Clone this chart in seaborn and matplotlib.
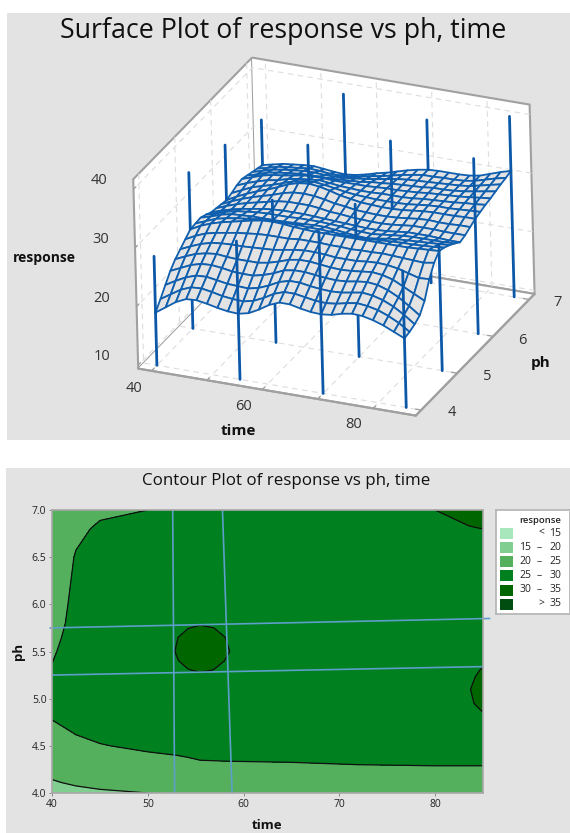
import numpy as np
import matplotlib
matplotlib.use('Agg')
import matplotlib.pyplot as plt
from matplotlib.patches import Rectangle
import seaborn as sns

W, H = 570, 833

# design points, drawn as drop lines in the surface plot
SPIKE_TIME = [40, 55, 70, 85, 40, 55, 70, 85, 40, 55, 70, 85, 40, 55, 70, 85]
SPIKE_PH = [4, 4, 4, 4, 5, 5, 5, 5, 6, 6, 6, 6, 7, 7, 7, 7]
SPIKE_RESPONSE = [28.0, 33.0, 37.0, 32.7, 36.0, 33.7, 35.4, 31.0, 34.4, 36.8, 39.9, 39.3, 32.4, 39.2, 37.2, 40.2]

SURF_TIME = [40, 41.875, 43.75, 45.625, 47.5, 49.375, 51.25, 53.125, 55, 56.875, 58.75, 60.625, 62.5,
             64.375, 66.25, 68.125, 70, 71.875, 73.75, 75.625, 77.5, 79.375, 81.25, 83.125, 85]
SURF_PH = [4, 4.143, 4.286, 4.429, 4.571, 4.714, 4.857, 5, 5.143, 5.286, 5.429,
           5.571, 5.714, 5.857, 6, 6.143, 6.286, 6.429, 6.571, 6.714, 6.857, 7]
SURF_RESPONSE = [
    [18.4, 19.6, 20.8, 21.6, 21.7, 21.4, 21.0, 20.7, 20.6, 21.0, 21.9, 23.0, 23.7, 23.7, 23.3, 23.0, 22.9, 23.1, 23.6, 23.9, 23.8, 23.4, 22.8, 22.0, 21.2],
    [19.8, 20.9, 22.0, 22.7, 22.8, 22.5, 22.1, 21.9, 21.8, 22.2, 23.0, 24.0, 24.6, 24.6, 24.3, 24.0, 23.9, 24.1, 24.5, 24.8, 24.6, 24.2, 23.5, 22.6, 21.4],
    [21.3, 22.3, 23.2, 23.8, 23.9, 23.6, 23.3, 23.2, 23.1, 23.5, 24.2, 25.1, 25.6, 25.6, 25.3, 25.1, 25.0, 25.1, 25.4, 25.7, 25.5, 25.0, 24.2, 23.1, 21.8],
    [22.8, 23.6, 24.4, 24.9, 25.0, 24.8, 24.5, 24.4, 24.4, 24.8, 25.4, 26.2, 26.5, 26.5, 26.3, 26.1, 26.0, 26.1, 26.4, 26.6, 26.4, 25.8, 24.9, 23.7, 22.4],
    [23.9, 24.7, 25.4, 25.8, 26.0, 25.8, 25.7, 25.7, 25.7, 26.0, 26.5, 27.1, 27.4, 27.4, 27.2, 27.0, 26.9, 27.0, 27.2, 27.4, 27.2, 26.7, 25.8, 24.9, 24.0],
    [24.7, 25.5, 26.2, 26.7, 26.9, 27.0, 27.0, 27.1, 27.2, 27.3, 27.6, 27.9, 28.1, 28.1, 28.0, 27.8, 27.8, 27.8, 28.0, 28.1, 28.0, 27.7, 27.2, 26.7, 26.8],
    [25.5, 26.4, 27.1, 27.5, 27.8, 28.1, 28.3, 28.5, 28.6, 28.6, 28.6, 28.8, 28.8, 28.8, 28.7, 28.7, 28.6, 28.7, 28.7, 28.8, 28.7, 28.6, 28.5, 28.4, 28.7],
    [26.3, 27.2, 27.9, 28.4, 28.8, 29.2, 29.6, 29.9, 30.0, 29.9, 29.7, 29.6, 29.5, 29.5, 29.5, 29.5, 29.5, 29.5, 29.5, 29.5, 29.5, 29.5, 29.6, 29.7, 29.8],
    [26.4, 27.1, 27.8, 28.2, 28.5, 28.7, 28.9, 29.1, 29.1, 29.1, 29.1, 29.0, 29.0, 28.9, 28.8, 28.7, 28.7, 28.8, 28.9, 29.0, 29.1, 29.1, 29.2, 29.3, 29.5],
    [26.5, 27.0, 27.6, 28.0, 28.1, 28.2, 28.2, 28.2, 28.2, 28.3, 28.4, 28.5, 28.5, 28.3, 28.1, 27.9, 27.8, 28.0, 28.3, 28.5, 28.6, 28.7, 28.8, 28.9, 29.0],
    [26.1, 26.6, 27.2, 27.6, 27.8, 28.0, 28.1, 28.1, 28.1, 28.2, 28.2, 28.2, 28.1, 28.0, 27.8, 27.7, 27.6, 27.8, 28.0, 28.2, 28.3, 28.3, 28.3, 28.3, 28.4],
    [25.6, 26.2, 26.7, 27.1, 27.4, 27.7, 27.9, 28.0, 28.0, 28.0, 27.9, 27.8, 27.7, 27.6, 27.5, 27.4, 27.4, 27.5, 27.7, 27.9, 27.9, 27.9, 27.8, 27.7, 27.7],
    [25.4, 26.1, 26.7, 27.2, 27.6, 28.0, 28.4, 28.6, 28.6, 28.6, 28.4, 28.1, 28.0, 27.8, 27.7, 27.6, 27.6, 27.7, 27.9, 28.1, 28.1, 28.1, 28.0, 28.0, 28.0],
    [25.2, 26.0, 26.7, 27.3, 27.8, 28.3, 28.9, 29.3, 29.4, 29.3, 29.0, 28.6, 28.4, 28.1, 28.0, 27.9, 27.9, 28.0, 28.2, 28.4, 28.5, 28.4, 28.4, 28.5, 28.5],
    [25.0, 25.9, 26.7, 27.4, 28.0, 28.7, 29.5, 30.0, 30.2, 30.0, 29.6, 29.1, 28.8, 28.5, 28.4, 28.3, 28.3, 28.4, 28.6, 28.8, 28.9, 28.9, 28.9, 29.0, 29.0],
    [25.3, 26.1, 26.9, 27.4, 27.9, 28.5, 29.1, 29.4, 29.6, 29.4, 29.1, 28.8, 28.6, 28.5, 28.4, 28.4, 28.4, 28.5, 28.7, 28.9, 29.0, 29.0, 29.1, 29.2, 29.3],
    [25.7, 26.4, 27.0, 27.5, 27.8, 28.3, 28.6, 28.8, 29.0, 28.8, 28.6, 28.5, 28.4, 28.4, 28.5, 28.5, 28.5, 28.6, 28.8, 28.9, 29.0, 29.1, 29.3, 29.4, 29.6],
    [25.9, 26.5, 27.1, 27.5, 27.7, 28.0, 28.3, 28.4, 28.4, 28.3, 28.3, 28.3, 28.3, 28.4, 28.5, 28.5, 28.6, 28.7, 28.9, 29.0, 29.1, 29.2, 29.4, 29.6, 29.8],
    [25.6, 26.1, 26.7, 27.0, 27.2, 27.4, 27.5, 27.5, 27.5, 27.6, 27.7, 27.8, 28.1, 28.2, 28.4, 28.5, 28.6, 28.7, 28.9, 28.9, 29.0, 29.2, 29.5, 29.8, 30.1],
    [25.3, 25.8, 26.3, 26.6, 26.8, 27.0, 27.0, 26.9, 26.9, 27.0, 27.2, 27.4, 27.7, 28.0, 28.3, 28.5, 28.6, 28.7, 28.8, 28.9, 29.0, 29.2, 29.6, 30.0, 30.4],
    [25.0, 25.4, 25.9, 26.1, 26.3, 26.5, 26.4, 26.2, 26.2, 26.3, 26.6, 27.0, 27.3, 27.7, 28.1, 28.4, 28.7, 28.7, 28.8, 28.8, 28.9, 29.2, 29.7, 30.2, 30.6],
    [24.7, 25.1, 25.5, 25.7, 25.9, 26.0, 25.8, 25.6, 25.5, 25.7, 26.1, 26.6, 27.0, 27.5, 28.0, 28.4, 28.7, 28.8, 28.8, 28.8, 28.9, 29.2, 29.8, 30.4, 30.9],
]

CONT_TIME = [40, 41, 42.5, 45, 50, 53, 54.2, 55.5, 56.9, 58, 65, 72, 80, 83.5, 84.2, 85]
CONT_PH = [4, 4.3, 4.5, 4.8, 4.95, 5.1, 5.3, 5.4, 5.5, 5.65, 5.8, 6, 6.5, 6.8, 7]
CONT_RESPONSE = [
    [19, 19.3, 19.5, 19.7, 20, 20.5, 20.6, 20.8, 21.2, 21.5, 22.5, 22.5, 22.5, 22.5, 22.5, 22.5],
    [21.1, 21.2, 21.5, 22, 23.5, 24, 24.3, 24.6, 24.65, 24.7, 24.8, 25, 25.1, 25.1, 25.1, 25.1],
    [22.8, 23.3, 23.9, 24.8, 25.7, 26, 26.1, 26.3, 26.3, 26.3, 26.4, 26.5, 26.5, 26.5, 26.5, 26.6],
    [25.2, 25.7, 26.7, 27.2, 27.5, 27.8, 27.9, 28, 27.9, 27.8, 27.8, 28, 28.2, 28.7, 29.2, 29.7],
    [25.5, 26, 27, 27.6, 28.05, 28.4, 28.45, 28.55, 28.45, 28.3, 28.05, 28.25, 28.5, 29.6, 30.1, 30.5],
    [25.8, 26.3, 27.3, 28, 28.6, 29, 29, 29.1, 29, 28.8, 28.3, 28.5, 28.8, 29.8, 30.5, 31],
    [25.3, 26.1, 27.2, 28, 29, 29.7, 29.95, 30.1, 29.97, 29.75, 28.4, 28.5, 28.6, 29.3, 29.75, 30.2],
    [24.9, 25.8, 27.05, 27.9, 29, 29.93, 30.28, 30.48, 30.31, 30, 28.45, 28.45, 28.45, 28.95, 29.2, 29.6],
    [24.5, 25.5, 26.9, 27.8, 29, 30.06, 30.49, 30.87, 30.52, 30.13, 28.5, 28.4, 28.3, 28.6, 28.8, 29],
    [24.25, 25, 26.65, 27.65, 28.8, 29.95, 30.31, 30.52, 30.34, 30.02, 28.5, 28.35, 28.25, 28.45, 28.6, 28.75],
    [24, 24.5, 26.4, 27.5, 28.6, 29.58, 29.81, 29.92, 29.83, 29.62, 28.5, 28.3, 28.2, 28.3, 28.4, 28.5],
    [23.8, 24.2, 26, 27.3, 28.2, 29, 29.1, 29.2, 29.2, 29.2, 28.5, 28.3, 28.2, 28.3, 28.35, 28.4],
    [23.5, 23.8, 25.2, 26.5, 27.2, 28, 28.1, 28.2, 28.3, 28.4, 28.5, 28.4, 28.6, 28.7, 28.8, 28.9],
    [23.5, 23.6, 24.4, 25.4, 26, 27, 27.2, 27.4, 27.6, 27.8, 28.3, 28.8, 29.4, 29.8, 29.9, 30],
    [23.5, 23.6, 24, 24.5, 25, 26.2, 26.5, 26.8, 27.2, 27.4, 28, 29, 30, 31, 31.2, 31.5],
]
CONT_LEVELS = [0, 15, 20, 25, 30, 35, 100]
CONT_COLORS = ['#a8e6bb', '#80cf90', '#55b05e', '#00801f', '#006600', '#004d12']
LEGEND_LOW = ['<', '15', '20', '25', '30', '>']
LEGEND_HIGH = ['15', '20', '25', '30', '35', '35']

# the four guide lines across the contour plot
GUIDE_TIME = [[52.6, 52.8], [57.8, 58.8], [39.8, 85.7], [40, 85]]
GUIDE_PH = [[7.0, 4.0], [7.0, 4.0], [5.75, 5.85], [5.25, 5.34]]

# surface plot tick labels, the 3d axis can't offset them the way the picture does
SURF_TICK_LABELS = ['40', '30', '20', '10', '40', '60', '80', '4', '5', '6', '7']
SURF_TICK_X = [99, 101, 102, 102.5, 133.5, 244, 353.5, 452, 487, 522.5, 558]
SURF_TICK_Y = [180, 240, 299, 357, 388, 406, 424, 412, 376, 340, 302]

BLUE = '#0b57a8'
PANEL = '#e3e3e3'
BOX_GREY = '#a0a0a0'

sns.set_theme(style='white')
plt.rcParams['font.family'] = ['Open Sans', 'DejaVu Sans']
plt.rcParams['grid.color'] = '#dddddd'
plt.rcParams['grid.linestyle'] = (0, (5, 4))
plt.rcParams['grid.linewidth'] = 0.8
plt.rcParams['xtick.color'] = BOX_GREY
plt.rcParams['ytick.color'] = BOX_GREY
palette = sns.color_palette(CONT_COLORS)


def px_rect(x0, y0, x1, y1):
    # left, bottom, width, height in figure fractions, from picture pixels
    return [x0 / W, 1 - y1 / H, (x1 - x0) / W, (y1 - y0) / H]


def px_text(x, y, s, **kw):
    fig.text(x / W, 1 - y / H, s, **kw)


fig = plt.figure(figsize=(W / 100, H / 100), dpi=100, facecolor='white')
for x0, y0, x1, y1 in [(7, 13, 570, 440), (6, 468, 570, 833)]:
    l, b, w, h = px_rect(x0, y0, x1, y1)
    fig.add_artist(Rectangle((l, b), w, h, transform=fig.transFigure, color=PANEL, lw=0, zorder=-1))

# surface plot
px_text(283, 31, 'Surface Plot of response vs ph, time', ha='center', va='center', fontsize=19.3, color='#111111')
ax3 = fig.add_axes(px_rect(128.5, 42, 528.5, 442), projection='3d', computed_zorder=False, proj_type='ortho')
ax3.set_facecolor('none')
ax3.view_init(elev=25.9, azim=-65.8, roll=1.5)
ax3.set_box_aspect((303.5, 298, 211), zoom=1.15)
z_floor = 9.4
ax3.set_xlim(37.6, 87.7)
ax3.set_ylim(3.85, 7.15)
ax3.set_zlim(z_floor, 41.7)
ax3.set_xticks([40, 50, 60, 70, 80], [''] * 5)
ax3.set_yticks([4, 5, 6, 7], [''] * 4)
ax3.set_zticks([10, 20, 30, 40], [''] * 4)
ax3.zaxis.set_ticks_position('lower')
for axis in (ax3.xaxis, ax3.yaxis, ax3.zaxis):
    axis.set_pane_color('white')
    axis.pane.set_edgecolor(BOX_GREY)
    axis.pane.set_linewidth(1.5)
    axis.line.set_color(BOX_GREY)
    axis.line.set_linewidth(1.5)
    axis._axinfo['tick']['inward_factor'] = 0
    axis._axinfo['tick']['outward_factor'] = 0.25
    axis._axinfo['tick']['color'] = BOX_GREY
    axis._axinfo['tick']['linewidth'] = {True: 1.0, False: 0.8}

surf = np.array(SURF_RESPONSE)
tt, pp = np.meshgrid(SURF_TIME, SURF_PH)
for t, p, r in zip(SPIKE_TIME, SPIKE_PH, SPIKE_RESPONSE):
    at_surface = surf[SURF_PH.index(p), SURF_TIME.index(t)]
    ax3.plot([t, t], [p, p], [z_floor, at_surface], color=BLUE, lw=2.0, zorder=1)
    ax3.plot([t, t], [p, p], [at_surface, r], color=BLUE, lw=2.0, zorder=3)
ax3.plot_surface(tt, pp, surf, rstride=1, cstride=1, color=PANEL, edgecolor='#0f5fae', linewidth=1.3,
                 shade=False, antialiased=True, zorder=2)

for s, x, y in zip(SURF_TICK_LABELS, SURF_TICK_X, SURF_TICK_Y):
    px_text(x, y, s, ha='center', va='center', fontsize=10.5, color='#333333')
px_text(238, 431, 'time', ha='center', va='center', fontsize=11, fontweight='bold', color='#111111')
px_text(541, 363, 'ph', ha='center', va='center', fontsize=11, fontweight='bold', color='#111111')
px_text(44, 258, 'response', ha='center', va='center', fontsize=10, fontweight='bold', color='#111111')

# contour plot
px_text(286, 481, 'Contour Plot of response vs ph, time', ha='center', va='center', fontsize=12.2,
        fontweight='medium', color='#111111')
ax = fig.add_axes(px_rect(52, 510, 483, 793))
ax.contourf(CONT_TIME, CONT_PH, CONT_RESPONSE, levels=CONT_LEVELS, colors=palette)
ax.contour(CONT_TIME, CONT_PH, CONT_RESPONSE, levels=CONT_LEVELS[1:-1], colors='#101010', linewidths=0.9)
for gt, gp in zip(GUIDE_TIME, GUIDE_PH):
    line = sns.lineplot(x=gt, y=gp, ax=ax, color='#5c9fc9', lw=1.2, estimator=None, sort=False, legend=False)
    line.lines[-1].set_clip_on(False)
ax.set_xlim(40, 85)
ax.set_ylim(4, 7)
ax.set_xticks([40, 50, 60, 70, 80])
ax.set_yticks([4, 4.5, 5, 5.5, 6, 6.5, 7], ['4.0', '4.5', '5.0', '5.5', '6.0', '6.5', '7.0'])
ax.tick_params(labelsize=7.5, length=2, width=0.7, pad=2, color='#888888', labelcolor='#222222', bottom=True, left=True)
ax.set_xlabel('time', fontsize=9.5, fontweight='bold', labelpad=7, color='#111111')
ax.set_ylabel('ph', fontsize=9.5, fontweight='bold', labelpad=5, color='#111111')
for spine in ax.spines.values():
    spine.set_color('#a8a8a8')
    spine.set_linewidth(1.2)

# legend, its scale is in picture pixels
lax = fig.add_axes(px_rect(496, 510, 570, 614))
lax.set_xlim(496, 570)
lax.set_ylim(614, 510)
lax.set_xticks([])
lax.set_yticks([])
for spine in lax.spines.values():
    spine.set_color('#b5b5b5')
lax.text(561, 520.5, 'response', ha='right', va='center', fontsize=6.8, fontweight='semibold', color='#222222')
row_y = [533.3, 547.3, 561.7, 575.7, 590, 604]
for y, c, lo, hi in zip(row_y, palette, LEGEND_LOW, LEGEND_HIGH):
    lax.add_patch(Rectangle((500, y - 5.5), 13, 11, color=c, lw=0))
    lax.text(561, y, hi, ha='right', va='center', fontsize=7.5, color='#222222')
    if lo in ('<', '>'):
        lax.text(544, y, lo, ha='right', va='center', fontsize=7.5, color='#222222')
    else:
        lax.text(531, y, lo, ha='right', va='center', fontsize=7.5, color='#222222')
        lax.text(539, y, '\u2013', ha='center', va='center', fontsize=7.5, color='#222222')

plt.savefig('out.png', dpi=100)
plt.close()
